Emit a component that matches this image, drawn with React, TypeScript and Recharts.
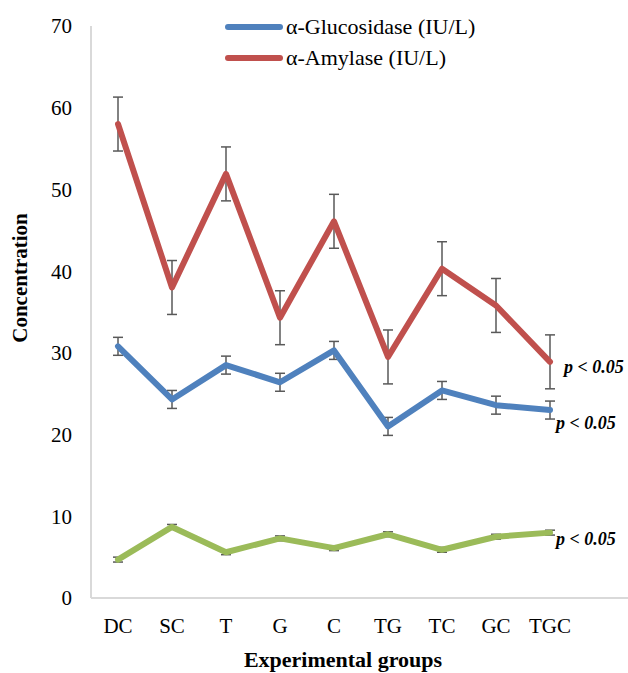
import { LineChart, Line, XAxis, YAxis, ErrorBar, Legend, Label } from 'recharts';

// groups on the x axis
const groups = ['DC', 'SC', 'T', 'G', 'C', 'TG', 'TC', 'GC', 'TGC'];

// α-Glucosidase (IU/L)
const glucosidase = [30.8, 24.3, 28.5, 26.4, 30.3, 21.0, 25.4, 23.6, 23.0];
const glucosidaseErr = [1.1, 1.1, 1.1, 1.1, 1.1, 1.1, 1.1, 1.1, 1.1];

// α-Amylase (IU/L)
const amylase = [58.0, 38.0, 51.9, 34.3, 46.1, 29.5, 40.3, 35.8, 28.9];
const amylaseErr = [3.3, 3.3, 3.3, 3.3, 3.3, 3.3, 3.3, 3.3, 3.3];

// third series (not in the legend)
const third = [4.7, 8.7, 5.6, 7.3, 6.1, 7.8, 5.9, 7.5, 8.0];
const thirdErr = [0.3, 0.3, 0.3, 0.3, 0.3, 0.3, 0.3, 0.3, 0.3];

const yTicks = [0, 10, 20, 30, 40, 50, 60, 70];

const FONT = '"Liberation Serif", "Times New Roman", Times, serif';
const BLUE = '#4F81BD';
const RED = '#C0504D';
const GREEN = '#9BBB59';
const AXIS = '#d9d9d9';
const ERR = '#595959';

const legendItems = [
  { name: 'α-Glucosidase (IU/L)', color: BLUE },
  { name: 'α-Amylase (IU/L)', color: RED },
];

const data = groups.map((g, i) => ({
  group: g,
  glucosidase: glucosidase[i],
  glucosidaseErr: glucosidaseErr[i],
  amylase: amylase[i],
  amylaseErr: amylaseErr[i],
  third: third[i],
  thirdErr: thirdErr[i],
}));

const last = groups.length - 1;

// "p < 0.05" note next to the last point of a series
function pLabel(dx: number, dy: number) {
  return (props: any) => {
    if (props.index !== last) return <g />;
    return (
      <text
        x={props.x + dx}
        y={props.y + dy}
        fontFamily={FONT}
        fontSize={18}
        fontWeight="bold"
        fontStyle="italic"
        fill="#000"
      >
        p &lt; 0.05
      </text>
    );
  };
}

function LegendBox() {
  return (
    <div style={{ fontFamily: FONT, fontSize: 22, color: '#000' }}>
      {legendItems.map((item) => (
        <div key={item.name} style={{ display: 'flex', alignItems: 'center', height: 31 }}>
          <div
            style={{
              width: 58,
              height: 6,
              borderRadius: 3,
              background: item.color,
              marginRight: 3,
            }}
          />
          <span style={{ lineHeight: '31px', fontFamily: FONT }}>{item.name}</span>
        </div>
      ))}
    </div>
  );
}

export default function App() {
  return (
    <div
      style={{
        position: 'absolute',
        left: 0,
        top: 0,
        width: 628,
        height: 673,
        background: '#fff',
        fontFamily: FONT,
      }}
    >
      <LineChart width={628} height={673} data={data} margin={{ top: 26, right: 0, bottom: 0, left: 0 }}>
        <XAxis
          dataKey="group"
          height={75}
          padding={{ left: 27, right: 78 }}
          axisLine={{ stroke: AXIS, strokeWidth: 2 }}
          tickLine={false}
          tickMargin={14}
          tick={{ fontFamily: FONT, fontSize: 21, fill: '#000' }}
          interval={0}
        >
          <Label
            content={() => (
              <text x={343} y={667} textAnchor="middle" fontFamily={FONT} fontSize={22} fontWeight="bold" fill="#000">
                Experimental groups
              </text>
            )}
          />
        </XAxis>
        <YAxis
          width={91}
          domain={[0, 70]}
          ticks={yTicks}
          axisLine={{ stroke: AXIS, strokeWidth: 2 }}
          tickLine={false}
          tickMargin={13}
          tick={{ fontFamily: FONT, fontSize: 21, fill: '#000' }}
        >
          <Label
            content={() => (
              <text
                x={27}
                y={278}
                transform="rotate(-90 27 278)"
                textAnchor="middle"
                fontFamily={FONT}
                fontSize={21}
                fontWeight="bold"
                fill="#000"
              >
                Concentration
              </text>
            )}
          />
        </YAxis>
        <Legend
          layout="horizontal"
          align="center"
          verticalAlign="middle"
          content={() => <LegendBox />}
          wrapperStyle={{ top: 11, left: 225, width: 320, height: 62 }}
        />

        {/* error bars first so the thick lines sit on top of them */}
        <Line dataKey="amylase" stroke="none" dot={false} legendType="none" isAnimationActive={false}>
          <ErrorBar dataKey="amylaseErr" width={5} stroke={ERR} strokeWidth={1.5} direction="y" />
        </Line>
        <Line dataKey="glucosidase" stroke="none" dot={false} legendType="none" isAnimationActive={false}>
          <ErrorBar dataKey="glucosidaseErr" width={5} stroke={ERR} strokeWidth={1.5} direction="y" />
        </Line>
        <Line dataKey="third" stroke="none" dot={false} legendType="none" isAnimationActive={false}>
          <ErrorBar dataKey="thirdErr" width={5} stroke={ERR} strokeWidth={1.5} direction="y" />
        </Line>

        <Line
          dataKey="glucosidase"
          name="α-Glucosidase (IU/L)"
          type="linear"
          stroke={BLUE}
          strokeWidth={6}
          strokeLinecap="round"
          strokeLinejoin="round"
          dot={false}
          isAnimationActive={false}
          label={pLabel(6, 19)}
        />
        <Line
          dataKey="amylase"
          name="α-Amylase (IU/L)"
          type="linear"
          stroke={RED}
          strokeWidth={6}
          strokeLinecap="round"
          strokeLinejoin="round"
          dot={false}
          isAnimationActive={false}
          label={pLabel(14, 11)}
        />
        <Line
          dataKey="third"
          type="linear"
          stroke={GREEN}
          strokeWidth={6}
          strokeLinecap="round"
          strokeLinejoin="round"
          dot={false}
          isAnimationActive={false}
          label={pLabel(6, 12)}
        />
      </LineChart>
    </div>
  );
}
